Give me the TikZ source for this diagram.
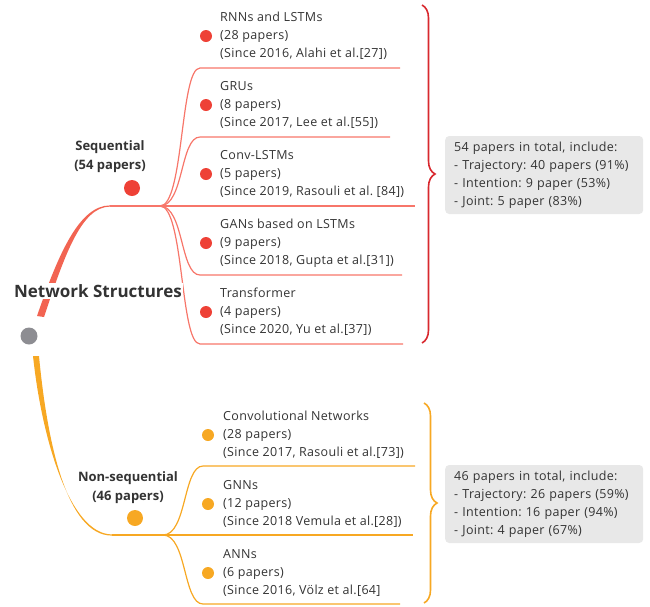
\documentclass[tikz,border=0pt]{standalone}
\usepackage{fontspec}
\setmainfont{Open Sans}
\newfontfamily\itemfont[LetterSpace=2.5]{Open Sans}
\frenchspacing
\usetikzlibrary{decorations.pathreplacing}
\definecolor{seqRed}{HTML}{EE4136}
\definecolor{seqLight}{HTML}{F7766A}
\definecolor{seqThick}{HTML}{F26452}
\definecolor{seqBrace}{HTML}{D8282E}
\definecolor{nonOrange}{HTML}{F7A823}
\definecolor{rootGray}{HTML}{8D8D92}
\definecolor{textGray}{HTML}{333333}
\definecolor{boxGray}{HTML}{E8E8E8}

\begin{document}
\begin{tikzpicture}
[x=1pt,y=-1pt,%
  seqLine/.style={line width=1.2pt,color=seqLight},%
  nonLine/.style={line width=1.2pt,color=nonOrange},%
  itemDot/.style={circle,inner sep=0pt,minimum size=12pt},%
  itemText/.style={anchor=west,align=left,inner sep=0pt,text=textGray,font=\itemfont\fontsize{12.5}{18}\selectfont},%
  groupText/.style={align=center,inner sep=0pt,text=textGray,font=\bfseries\fontsize{13}{19}\selectfont},%
  sumBox/.style={anchor=west,fill=boxGray,rounded corners=4pt,align=left,text width=180pt,inner xsep=9pt,minimum height=78pt,text=textGray,font=\itemfont\fontsize{12.5}{18}\selectfont},%
  braceLine/.style={decorate,decoration={brace,amplitude=13pt},line width=1.6pt}]
\useasboundingbox (0,0) rectangle (650,606);

%% sequential branch
\coordinate (seqKnee) at (110,206);
\coordinate (seqHub) at (160,206);
\fill[seqThick] (37,316) .. controls (58,255) and (79,205.4) .. (110,205.4) -- (110,206.6)
  .. controls (81,206.6) and (64,257) .. (44,317) -- cycle;
\draw[seqLine] (seqKnee) -- (seqHub);
\node[itemDot,fill=seqRed,minimum size=16pt] (seqDot) at (132,188) {};
\node[groupText] (seqLabel) at (110,157) {Sequential\\(54 papers)};
\foreach \i/\yd/\xe/\txt in {1/36/400/{RNNs and LSTMs\\(28 papers)\\(Since 2016, Alahi et al.[27])},
  2/105/390/{GRUs\\(8 papers)\\(Since 2017, Lee et al.[55])},
  3/174/415/{Conv-LSTMs\\(5 papers)\\(Since 2019, Rasouli et al. [84])},
  4/243/402/{GANs based on LSTMs\\(9 papers)\\(Since 2018, Gupta et al.[31])},
  5/312/403/{Transformer\\(4 papers)\\(Since 2020, Yu et al.[37])}}
{
  \node[itemDot,fill=seqRed] (seqDot\i) at (206,\yd) {};
  \node[itemText] (seqItem\i) at (220,\yd) {\txt};
  \coordinate (seqEnd\i) at (\xe,\yd+32);
  \draw[seqLine] (seqHub) .. controls +(24,0) and +(-20,0) .. (200,\yd+32) -- (seqEnd\i);
}
\coordinate (seqBraceTop) at (422,5);
\coordinate (seqBraceBot) at (422,343);
\draw[braceLine,color=seqBrace] (seqBraceTop) -- (seqBraceBot);
\node[sumBox] (seqSum) at (445,175) {54 papers in total, include:\\- Trajectory: 40 papers (91\%)\\- Intention: 9 paper (53\%)\\- Joint: 5 paper (83\%)};

%% non-sequential branch
\coordinate (nonKnee) at (112,535);
\coordinate (nonHub) at (163,535);
\fill[nonOrange] (33,356) .. controls (42,440) and (70,534.4) .. (112,534.4) -- (112,535.6)
  .. controls (66,535.6) and (47,440) .. (39,356) -- cycle;
\draw[nonLine] (nonKnee) -- (nonHub);
\node[itemDot,fill=nonOrange,minimum size=16pt] (nonDot) at (135,518) {};
\node[groupText] (nonLabel) at (128,488) {Non-sequential\\(46 papers)};
\foreach \i/\yd/\xe/\txt in {1/435/415/{Convolutional Networks\\(28 papers)\\(Since 2017, Rasouli et al.[73])},
  2/504/413/{GNNs\\(12 papers)\\(Since 2018 Vemula et al.[28])},
  3/573/400/{ANNs\\(6 papers)\\(Since 2016, Völz et al.[64]}}
{
  \node[itemDot,fill=nonOrange] (nonDot\i) at (208,\yd) {};
  \node[itemText] (nonItem\i) at (223,\yd) {\txt};
  \coordinate (nonEnd\i) at (\xe,\yd+31);
  \draw[nonLine] (nonHub) .. controls +(24,0) and +(-20,0) .. (203,\yd+31) -- (nonEnd\i);
}
\coordinate (nonBraceTop) at (424,403);
\coordinate (nonBraceBot) at (424,603);
\draw[braceLine,color=nonOrange] (nonBraceTop) -- (nonBraceBot);
\node[sumBox] (nonSum) at (445,504) {46 papers in total, include:\\- Trajectory: 26 papers (59\%)\\- Intention: 16 paper (94\%)\\- Joint: 4 paper (67\%)};

%% root, drawn last so the title covers the curve
\node[itemDot,fill=rootGray,minimum size=17pt] (root) at (29,336) {};
\node[fill=white,text=textGray,font=\bfseries\fontsize{17}{18}\selectfont,inner sep=1pt] (title) at (98,291) {Network Structures};
\end{tikzpicture}
\end{document}
